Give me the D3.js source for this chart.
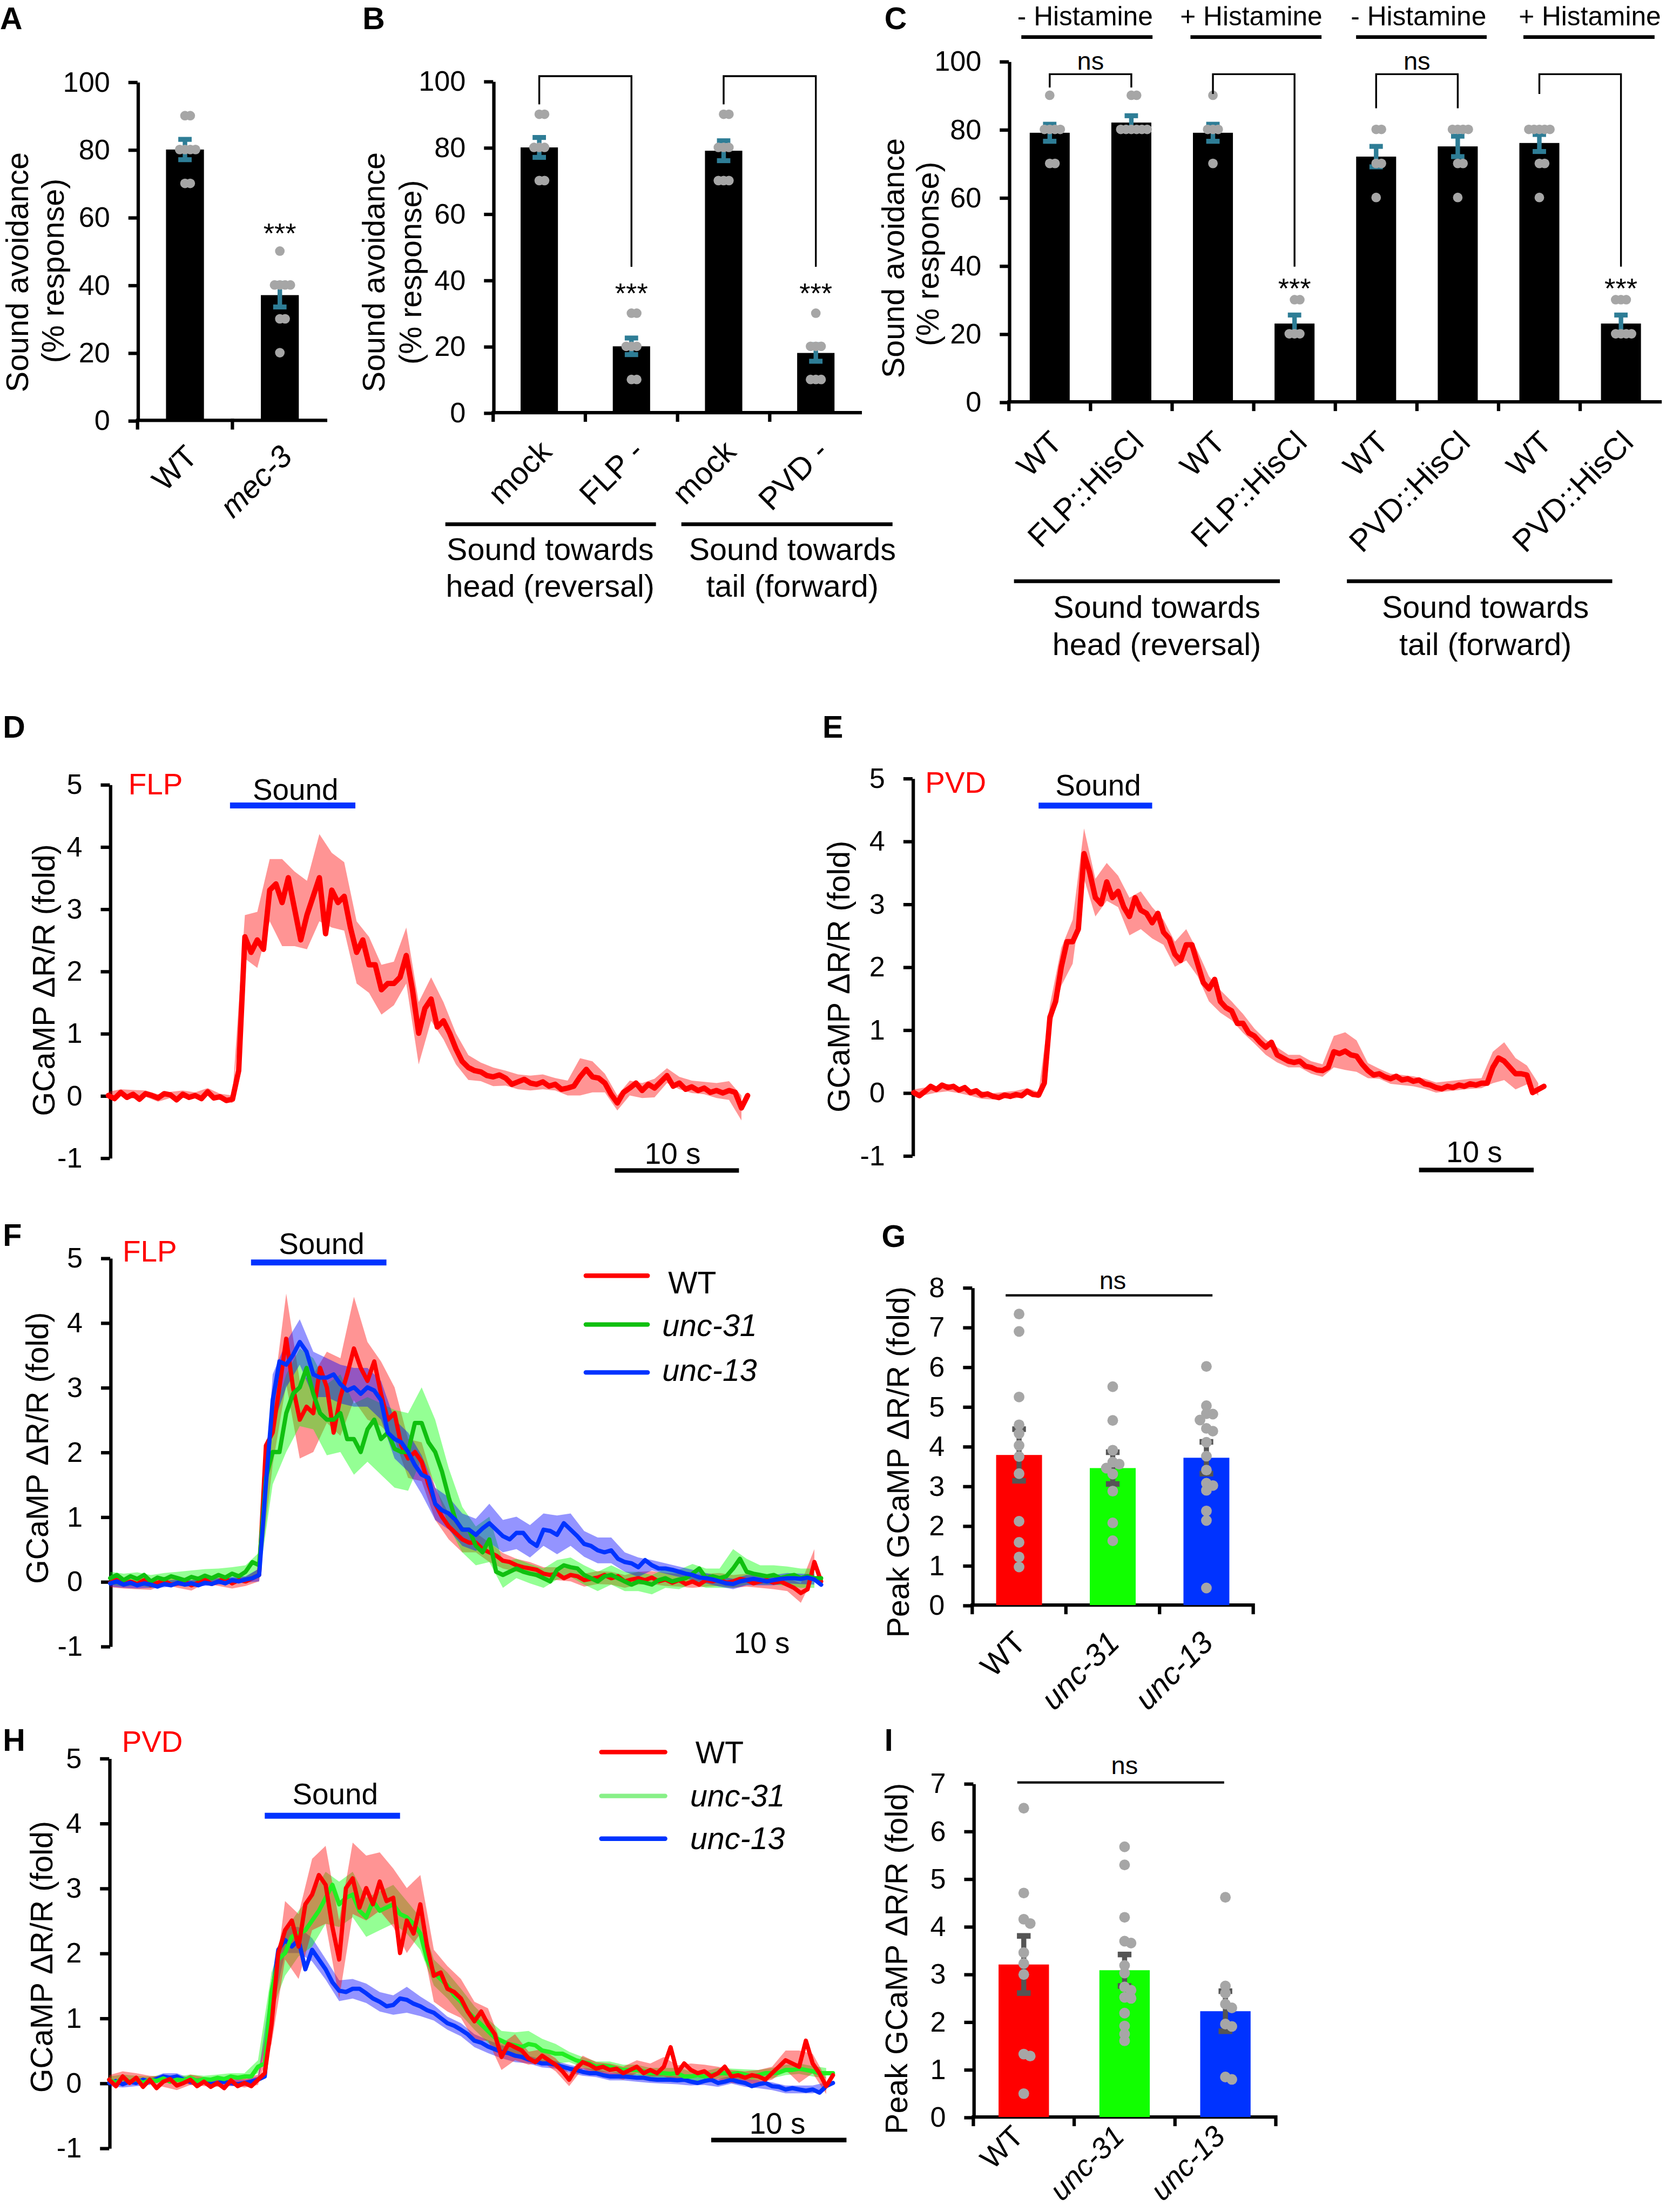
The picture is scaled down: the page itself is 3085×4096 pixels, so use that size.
<!DOCTYPE html>
<html>
<head>
<meta charset="utf-8">
<script src="https://cdn.jsdelivr.net/npm/d3@7"></script>
<style>
  body { margin: 0; background: #fff; }
  svg { display: block; }
</style>
</head>
<body>
<svg id="main-svg"></svg>
<script>
// ================= DATA =================

// A - sound avoidance, WT vs mec-3
const catsA = ["WT", "mec-3"];
const meanA = [80, 37];
const semA = [3, 3.5];
const dotsA = [[90, 90, 80, 80, 80, 80, 70, 70], [50, 40, 40, 40, 40, 30, 30, 20]];

// B - neuron ablation
const catsB = ["mock", "FLP -", "mock", "PVD -"];
const meanB = [80, 20, 79, 18];
const semB = [3, 2.5, 3, 2.5];
const dotsB = [[90, 90, 80, 80, 80, 70, 70], [30, 30, 20, 20, 20, 10, 10],
               [90, 90, 80, 80, 80, 70, 70, 70], [30, 20, 20, 20, 10, 10, 10]];
const groupsB = [["Sound towards", "head (reversal)"], ["Sound towards", "tail (forward)"]];

// C - HisCl silencing
const catsC = ["WT", "FLP::HisCl", "WT", "FLP::HisCl", "WT", "PVD::HisCl", "WT", "PVD::HisCl"];
const meanC = [79, 82, 79, 23, 72, 75, 76, 23];
const semC = [2.5, 2, 2.5, 2.5, 3, 3, 2.5, 2.5];
const dotsC = [[90, 80, 80, 80, 80, 70, 70], [90, 90, 80, 80, 80, 80, 80, 80],
               [90, 80, 80, 80, 70], [30, 30, 20, 20, 20],
               [80, 80, 70, 70, 60], [80, 80, 80, 80, 70, 70, 60],
               [80, 80, 80, 80, 80, 70, 70, 60], [30, 30, 30, 20, 20, 20, 20]];
const histC = ["- Histamine", "+ Histamine", "- Histamine", "+ Histamine"];
const groupsC = [["Sound towards", "head (reversal)"], ["Sound towards", "tail (forward)"]];

const italicCats = ["mec-3", "unc-31", "unc-13"];
const strainNames = ["WT", "unc-31", "unc-13"];

// traces: mean sampled every 0.5 s, sem every 1 s
// D - FLP
const meanD = [0.0,-0.05,0.05,-0.03,0.02,-0.06,0.03,0.0,-0.04,0.03,0.01,-0.07,0.02,-0.03,0.0,-0.05,0.06,-0.04,-0.02,-0.08,-0.06,
  0.4,2.55,2.3,2.5,2.35,3.3,3.4,3.1,3.5,3.0,2.5,2.9,3.2,3.5,2.6,3.3,3.1,3.2,2.7,2.3,
  2.5,2.1,2.1,1.7,1.8,1.8,1.9,2.25,1.7,1.0,1.4,1.55,1.1,1.2,1.0,0.75,0.55,0.45,0.4,0.38,
  0.32,0.3,0.33,0.28,0.18,0.22,0.26,0.2,0.18,0.22,0.15,0.18,0.1,0.12,0.15,0.3,0.42,0.3,0.28,0.2,
  0.02,-0.12,0.05,0.12,0.2,0.08,0.18,0.12,0.22,0.32,0.15,0.2,0.1,0.14,0.08,0.12,0.05,0.08,0.04,0.08,
  0.05,-0.2,0.0];
const semD = [0.06,0.05,0.07,0.05,0.06,0.05,0.06,0.05,0.06,0.05,0.06,
  0.35,0.45,0.5,0.7,0.6,0.55,0.7,0.6,0.55,0.5,
  0.45,0.4,0.35,0.45,0.5,0.35,0.3,0.25,0.2,0.15,
  0.15,0.12,0.12,0.12,0.12,0.1,0.12,0.3,0.25,0.15,
  0.12,0.12,0.12,0.15,0.12,0.1,0.1,0.1,0.12,0.15,
  0.2];

// E - PVD
const meanE = [0.0,-0.05,0.02,0.1,0.05,0.12,0.08,0.1,0.04,0.08,0.0,0.03,-0.04,-0.02,-0.06,-0.08,-0.04,-0.06,-0.03,-0.05,0.02,
  -0.03,-0.04,0.15,1.2,1.45,2.0,2.4,2.4,2.6,3.8,3.5,3.1,3.0,3.35,3.1,3.2,2.95,2.8,3.1,2.9,
  2.85,2.7,2.85,2.55,2.45,2.2,2.1,2.35,2.35,2.05,1.75,1.65,1.8,1.45,1.35,1.3,1.1,1.1,0.95,0.9,
  0.8,0.72,0.8,0.6,0.55,0.5,0.48,0.5,0.42,0.4,0.36,0.35,0.4,0.65,0.62,0.66,0.6,0.58,0.45,0.35,
  0.28,0.3,0.25,0.22,0.26,0.2,0.22,0.18,0.2,0.14,0.12,0.08,0.06,0.1,0.08,0.12,0.1,0.14,0.12,0.15,
  0.15,0.4,0.55,0.5,0.4,0.3,0.3,0.28,0.0,0.05,0.1];
const semE = [0.05,0.06,0.05,0.06,0.05,0.05,0.06,0.05,0.05,0.06,0.05,0.05,
  0.2,0.3,0.35,0.4,0.3,0.3,0.25,0.3,0.3,0.25,
  0.2,0.2,0.25,0.2,0.2,0.18,0.15,0.15,0.12,0.12,
  0.12,0.1,0.1,0.1,0.1,0.25,0.3,0.25,0.12,0.08,
  0.08,0.08,0.08,0.08,0.08,0.08,0.08,0.08,0.08,0.25,
  0.3,0.25,0.15,0.1];

// F - FLP in WT / unc-31 / unc-13
const meanF_wt = [-0.02,0.03,-0.05,0.0,-0.04,0.02,-0.06,-0.02,0.01,-0.05,-0.03,0.0,-0.06,-0.02,0.03,-0.04,0.0,0.05,-0.03,0.02,0.0,
  0.05,0.1,2.1,2.3,3.0,3.75,3.0,2.5,2.7,2.6,3.3,3.0,2.3,2.85,3.2,3.6,3.3,3.1,3.4,2.9,
  2.5,2.6,2.1,1.9,2.0,1.85,1.5,1.2,1.0,0.85,0.75,0.65,0.6,0.6,0.5,0.45,0.4,0.32,0.3,0.25,
  0.22,0.2,0.18,0.12,0.1,0.12,0.05,0.1,0.08,0.02,0.04,0.06,0.1,0.05,0.08,0.0,0.03,0.05,0.02,0.06,
  0.0,0.03,-0.02,0.02,-0.04,0.0,-0.05,0.02,0.0,0.03,-0.02,0.0,0.04,0.02,-0.03,0.0,0.02,-0.02,0.0,-0.05,
  -0.1,-0.18,-0.12,0.3,0.0];
const meanF_31 = [0.05,0.1,0.02,0.08,0.04,0.1,0.0,0.06,0.03,0.08,0.05,0.02,0.07,0.04,0.09,0.05,0.1,0.06,0.12,0.08,0.15,
  0.3,0.25,1.6,2.0,2.0,2.6,2.9,3.0,3.3,2.9,2.6,2.5,2.5,2.6,2.2,2.2,2.0,2.35,2.5,2.2,
  2.3,2.05,2.0,2.0,2.45,2.45,2.15,2.0,1.7,1.3,0.95,0.8,0.8,0.55,0.45,0.65,0.15,0.1,0.15,0.2,
  0.15,0.12,0.1,0.05,0.0,0.18,0.25,0.22,0.2,0.1,0.05,0.0,0.08,0.1,0.05,0.0,-0.05,0.0,-0.02,-0.05,
  0.02,0.05,0.0,0.03,0.05,0.12,0.2,0.05,0.08,0.05,0.08,0.2,0.35,0.15,0.12,0.1,0.08,0.1,0.05,0.08,
  0.1,0.05,0.08,0.05,0.05];
const meanF_13 = [-0.03,0.0,-0.05,-0.02,-0.06,-0.03,-0.05,-0.08,-0.04,-0.06,-0.02,-0.05,-0.03,-0.06,-0.02,-0.04,0.0,-0.03,0.02,0.0,0.03,
  0.05,0.1,1.5,2.8,3.4,3.35,3.5,3.7,3.55,3.2,3.15,3.15,3.2,3.05,2.95,3.0,2.9,3.0,2.95,2.8,
  2.3,2.2,2.15,2.0,1.8,1.65,1.6,1.2,1.1,1.05,0.95,0.8,0.8,0.72,0.82,0.9,0.8,0.7,0.65,0.75,
  0.75,0.62,0.55,0.8,0.78,0.72,0.9,0.8,0.7,0.58,0.55,0.48,0.45,0.48,0.35,0.3,0.28,0.22,0.33,0.25,
  0.2,0.2,0.18,0.15,0.12,0.1,0.06,0.05,0.03,0.0,-0.03,-0.04,0.0,0.02,0.04,0.02,0.0,0.02,0.04,0.05,
  0.05,0.04,0.06,0.03,-0.05];
const semF_wt = [0.07,0.06,0.08,0.07,0.06,0.07,0.08,0.06,0.07,0.08,0.07,
  0.1,0.5,0.7,0.6,0.6,0.55,0.6,0.8,0.6,0.5,
  0.4,0.3,0.3,0.25,0.2,0.2,0.15,0.15,0.12,0.1,
  0.1,0.1,0.1,0.1,0.1,0.1,0.1,0.1,0.1,0.1,
  0.1,0.1,0.1,0.1,0.1,0.1,0.1,0.1,0.1,0.1,
  0.15,0.2];
const semF_31 = [0.1,0.1,0.1,0.1,0.1,0.1,0.1,0.1,0.1,0.1,0.1,
  0.2,0.5,0.6,0.6,0.55,0.55,0.6,0.55,0.5,0.55,
  0.6,0.6,0.55,0.5,0.45,0.35,0.3,0.35,0.2,0.15,
  0.15,0.15,0.15,0.15,0.15,0.15,0.15,0.15,0.15,0.15,
  0.15,0.15,0.15,0.15,0.15,0.3,0.2,0.15,0.15,0.15,
  0.15,0.15];
const semF_13 = [0.05,0.05,0.05,0.05,0.05,0.05,0.05,0.05,0.05,0.05,0.05,
  0.1,0.4,0.35,0.35,0.35,0.3,0.3,0.3,0.3,0.3,
  0.3,0.3,0.3,0.25,0.25,0.25,0.25,0.3,0.25,0.25,
  0.25,0.25,0.3,0.25,0.2,0.2,0.2,0.15,0.15,0.08,
  0.08,0.08,0.08,0.08,0.08,0.08,0.08,0.08,0.08,0.08,
  0.08,0.08];

// G - peak FLP response
const meanG = [3.78, 3.45, 3.71];
const semG = [0.65, 0.4, 0.4];
const dotsG = [[7.33, 6.89, 5.24, 4.54, 4.32, 4.02, 3.74, 3.31, 2.11, 1.58, 1.21, 0.96],
               [5.5, 4.65, 3.9, 3.6, 3.55, 3.45, 3.3, 2.87, 2.07, 1.62],
               [6.01, 5.02, 4.82, 4.81, 4.66, 4.45, 4.38, 4.1, 3.75, 3.4, 3.07, 3.01, 2.89, 2.37, 2.13, 0.43]];

// H - PVD in WT / unc-31 / unc-13
const meanH_wt = [0.05,-0.05,0.1,0.0,0.08,-0.06,0.05,-0.08,0.02,0.06,-0.04,0.0,0.05,-0.05,0.02,-0.06,0.0,-0.08,0.04,-0.05,0.0,
  -0.05,0.05,0.15,0.9,2.0,2.35,2.5,2.1,2.75,2.9,3.2,3.05,2.4,1.9,3.0,3.15,2.7,3.0,2.75,3.1,
  2.8,2.85,2.0,2.5,2.3,2.75,2.1,1.65,1.7,1.45,1.4,1.3,1.1,0.95,1.1,0.9,0.75,0.4,0.6,0.55,
  0.5,0.38,0.32,0.42,0.35,0.28,0.18,0.05,0.22,0.32,0.28,0.22,0.25,0.2,0.22,0.15,0.2,0.25,0.15,0.2,
  0.15,0.25,0.55,0.15,0.3,0.2,0.15,0.18,0.1,0.15,0.25,0.1,0.12,0.08,0.12,0.1,0.05,0.15,0.25,0.35,
  0.3,0.25,0.65,0.3,0.15,-0.05,0.12];
const meanH_31 = [0.05,0.0,0.08,0.02,0.06,0.0,0.05,0.03,0.07,0.02,0.05,0.04,0.08,0.03,0.06,0.05,0.08,0.06,0.1,0.08,0.1,
  0.1,0.25,0.3,1.4,1.9,2.0,2.25,2.3,2.35,2.5,2.65,2.85,3.05,2.75,2.85,2.9,2.65,2.55,2.8,2.65,
  2.7,2.75,2.6,2.55,2.45,2.3,1.9,1.7,1.6,1.5,1.35,1.25,1.1,1.0,0.9,0.8,0.7,0.65,0.6,0.58,
  0.55,0.6,0.58,0.5,0.48,0.45,0.45,0.4,0.35,0.32,0.3,0.25,0.26,0.25,0.22,0.2,0.2,0.2,0.18,0.15,
  0.15,0.15,0.14,0.15,0.1,0.1,0.12,0.1,0.12,0.15,0.15,0.14,0.15,0.13,0.1,0.12,0.15,0.15,0.16,0.2,
  0.2,0.22,0.2,0.18,0.15,0.15,0.15];
const meanH_13 = [0.0,0.03,-0.02,0.02,0.0,0.05,0.02,0.06,0.1,0.08,0.1,0.05,0.02,0.0,0.03,-0.02,0.0,0.02,0.0,-0.02,0.0,
  0.02,0.05,0.1,1.3,2.05,2.2,2.1,2.2,1.75,2.05,1.9,1.75,1.55,1.42,1.4,1.45,1.45,1.38,1.3,1.25,
  1.18,1.2,1.3,1.28,1.22,1.18,1.12,1.08,1.0,0.92,0.88,0.82,0.75,0.65,0.62,0.56,0.52,0.48,0.46,0.42,
  0.4,0.36,0.33,0.3,0.3,0.28,0.25,0.22,0.2,0.17,0.15,0.15,0.12,0.1,0.1,0.1,0.09,0.08,0.08,0.06,
  0.05,0.05,0.05,0.04,0.05,0.02,0.0,0.03,0.05,0.0,0.02,0.05,0.02,0.0,-0.05,-0.02,0.0,-0.05,-0.06,-0.1,
  -0.08,-0.1,-0.12,-0.1,-0.15,-0.05,0.0];
const semH_wt = [0.07,0.08,0.07,0.06,0.08,0.07,0.08,0.07,0.06,0.08,0.07,
  0.08,0.3,0.45,0.5,0.55,0.6,0.6,0.55,0.5,0.45,
  0.45,0.5,0.45,0.4,0.35,0.3,0.3,0.25,0.2,0.2,
  0.1,0.1,0.1,0.1,0.1,0.1,0.1,0.1,0.1,0.1,
  0.15,0.12,0.1,0.1,0.1,0.1,0.1,0.1,0.1,0.15,
  0.25,0.15,0.12];
const semH_31 = [0.05,0.05,0.05,0.05,0.05,0.05,0.05,0.05,0.05,0.05,0.05,
  0.1,0.3,0.35,0.35,0.4,0.4,0.35,0.35,0.3,0.3,
  0.3,0.25,0.25,0.2,0.2,0.2,0.18,0.18,0.15,0.2,
  0.2,0.18,0.15,0.08,0.08,0.08,0.08,0.08,0.08,0.08,
  0.08,0.08,0.08,0.08,0.08,0.08,0.08,0.08,0.08,0.08,
  0.08,0.08,0.08];
const semH_13 = [0.05,0.05,0.05,0.05,0.05,0.05,0.05,0.05,0.05,0.05,0.05,
  0.05,0.25,0.2,0.2,0.18,0.16,0.16,0.15,0.15,0.15,
  0.15,0.2,0.15,0.12,0.1,0.1,0.1,0.1,0.1,0.1,
  0.06,0.06,0.06,0.06,0.06,0.06,0.06,0.06,0.06,0.06,
  0.06,0.06,0.06,0.06,0.06,0.06,0.06,0.06,0.06,0.06,
  0.06,0.06,0.06];

// I - peak PVD response
const meanI = [3.2, 3.08, 2.22];
const semI = [0.6, 0.33, 0.42];
const dotsI = [[6.48, 4.7, 4.15, 4.06, 3.45, 3.22, 2.99, 1.32, 1.28, 0.49],
               [5.67, 5.29, 4.19, 3.69, 3.65, 3.18, 3.02, 2.73, 2.66, 2.51, 2.49, 2.18, 1.91, 1.74, 1.6],
               [4.61, 2.75, 2.6, 2.37, 2.29, 1.95, 1.9, 0.84, 0.79]];

const yTicksPct = [0, 20, 40, 60, 80, 100];
const yTicksTrace = [-1, 0, 1, 2, 3, 4, 5];

// ================= DRAWING =================
// all layout below is in 1181 x 1568 units, scaled up to the window
const CANVAS_WIDTH = 3085;
const CANVAS_HEIGHT = 4096;
const S = CANVAS_WIDTH / 1181;
const FONT = "'Liberation Sans', Arial, Helvetica, sans-serif";
const AXIS_W = 2.4;
const TEAL = "#2e7d96";
const DOT = "#a6a6a6";
const RED = "#ff0000", GREEN = "#11ff00", BLUE = "#0033ff";

const svg = d3.select("#main-svg")
  .attr("width", CANVAS_WIDTH)
  .attr("height", CANVAS_HEIGHT);
svg.append("rect").attr("width", CANVAS_WIDTH).attr("height", CANVAS_HEIGHT).attr("fill", "white");
const root = svg.append("g").attr("transform", `scale(${S})`);

function txt(g, x, y, s, size, opts = {}) {
  const t = g.append("text")
    .attr("x", x).attr("y", y)
    .attr("font-family", FONT)
    .attr("font-size", size)
    .attr("text-anchor", opts.anchor || "start")
    .attr("fill", opts.fill || "#000")
    .text(s);
  if (opts.bold) t.attr("font-weight", "bold");
  if (opts.italic) t.attr("font-style", "italic");
  return t;
}

function vtxt(g, x, y, s, size) {
  g.append("text")
    .attr("transform", `translate(${x},${y}) rotate(-90)`)
    .attr("font-family", FONT)
    .attr("font-size", size)
    .attr("text-anchor", "middle")
    .text(s);
}

function hline(g, x1, x2, y, w, color = "#000") {
  g.append("line").attr("x1", x1).attr("x2", x2).attr("y1", y).attr("y2", y)
    .attr("stroke", color).attr("stroke-width", w);
}

function styleAxis(ax) {
  ax.attr("font-size", null).attr("font-family", null);
  ax.select(".domain").attr("stroke", "#000").attr("stroke-width", AXIS_W);
  ax.selectAll(".tick line").attr("stroke", "#000").attr("stroke-width", AXIS_W);
  ax.selectAll(".tick text").attr("font-size", 20).attr("font-family", FONT).attr("fill", "#000");
}

// spread dots sideways so they do not sit on each other
function swarm(values, y, r, step) {
  const placed = [];
  return values.map(v => {
    const py = y(v);
    let off = 0;
    for (let i = 0; i < 30; i++) {
      off = (i % 2 ? 1 : -1) * Math.ceil(i / 2) * step;
      if (placed.every(p => Math.hypot(p.x - off, p.y - py) >= step - 0.01)) break;
    }
    placed.push({ x: off, y: py });
    return { dx: off, y: py };
  });
}

function barPanel(o) {
  const g = root.append("g");
  const y = d3.scaleLinear().domain([0, o.yMax]).range([o.yBot, o.yTop]);
  const x = d3.scaleBand().domain(d3.range(o.cats.length)).range([o.x0, o.x1]);
  const cx = i => x(i) + x.bandwidth() / 2;

  const ax = g.append("g").attr("transform", `translate(${o.x0},0)`)
    .call(d3.axisLeft(y).tickValues(o.ticks).tickSize(6.5).tickSizeOuter(0).tickPadding(13).tickFormat(d => String(d)));
  styleAxis(ax);

  hline(g, o.x0, o.x1, o.yBot, AXIS_W);
  const nTicks = o.cats.length + (o.endTick ? 1 : 0);
  g.selectAll(".xtick").data(d3.range(nTicks)).join("line")
    .attr("x1", i => o.x0 + i * x.step()).attr("x2", i => o.x0 + i * x.step())
    .attr("y1", o.yBot - AXIS_W / 2).attr("y2", o.yBot + 6.5)
    .attr("stroke", "#000").attr("stroke-width", AXIS_W);

  const bw = x.bandwidth() * o.barFrac;
  g.selectAll(".bar").data(o.means).join("rect")
    .attr("x", (d, i) => cx(i) - bw / 2)
    .attr("y", d => y(d))
    .attr("width", bw)
    .attr("height", d => o.yBot - y(d))
    .attr("fill", (d, i) => o.colors[i % o.colors.length]);

  // error bars
  o.means.forEach((m, i) => {
    const e = o.sems[i], c = cx(i);
    g.append("line").attr("x1", c).attr("x2", c).attr("y1", y(m - e)).attr("y2", y(m + e))
      .attr("stroke", o.errColor).attr("stroke-width", o.errW);
    [m - e, m + e].forEach(v => hline(g, c - o.capW / 2, c + o.capW / 2, y(v), o.capT, o.errColor));
  });

  // individual points
  o.dots.forEach((vals, i) => {
    g.selectAll(null).data(swarm(vals, y, o.dotR, o.dotR * o.spread)).join("circle")
      .attr("cx", d => cx(i) + d.dx).attr("cy", d => d.y).attr("r", o.dotR)
      .attr("fill", DOT);
  });

  // rotated category labels
  o.cats.forEach((c, i) => {
    g.append("text")
      .attr("transform", `translate(${cx(i) + o.ldx},${o.yBot + o.ldy}) rotate(-45)`)
      .attr("text-anchor", "end")
      .attr("font-family", FONT)
      .attr("font-size", o.lsize || 22)
      .attr("font-style", italicCats.includes(c) ? "italic" : "normal")
      .text(c);
  });

  return { g, x, y, cx };
}

function bracket(p, a, b, top, la, lb) {
  p.g.append("path")
    .attr("d", `M${p.cx(a)},${p.y(la)}V${p.y(top)}H${p.cx(b)}V${p.y(lb)}`)
    .attr("fill", "none").attr("stroke", "#000").attr("stroke-width", 1.3);
}

function tracePanel(o) {
  const g = root.append("g");
  const y = d3.scaleLinear().domain([-1, 5]).range([o.yBot, o.yTop]);
  const x = d3.scaleLinear().domain([0, 10]).range([o.xStart, o.xStart + o.px10]);

  const ax = g.append("g").attr("transform", `translate(${o.axisX},0)`)
    .call(d3.axisLeft(y).tickValues(yTicksTrace).tickSize(6.5).tickSizeOuter(0).tickPadding(13).tickFormat(d => String(d)));
  styleAxis(ax);

  const band = d3.area()
    .x((d, k) => x(k))
    .y0((d, k) => y(d.m - d.s))
    .y1((d, k) => y(d.m + d.s));
  const line = d3.line().x((d, i) => x(i * 0.5)).y(d => y(d));

  o.series.forEach(s => {
    const pts = s.sem.map((sv, k) => ({ m: s.mean[2 * k], s: sv })).filter(d => d.m !== undefined);
    g.append("path").attr("d", band(pts)).attr("fill", s.band).attr("fill-opacity", 0.42);
  });
  o.series.forEach(s => {
    g.append("path").attr("d", line(s.mean)).attr("fill", "none")
      .attr("stroke", s.color).attr("stroke-width", o.lineW)
      .attr("stroke-linejoin", "round").attr("stroke-linecap", "round");
  });

  // stimulus bar
  hline(g, x(o.sound[0]), x(o.sound[1]), o.soundY, 4.2, BLUE);
  txt(g, (x(o.sound[0]) + x(o.sound[1])) / 2 + 2, o.soundTextY, "Sound", 21, { anchor: "middle" });

  // time scale bar
  if (o.scaleBar) hline(g, x(o.scaleBar[0]), x(o.scaleBar[1]), o.scaleBarY, 3.2);
  txt(g, o.scaleText[0], o.scaleText[1], "10 s", 21, { anchor: "middle" });

  txt(g, o.neuron[1], o.neuron[2], o.neuron[0], 21, { fill: RED });
  vtxt(g, o.ylab[0], o.ylab[1], "GCaMP \u0394R/R (fold)", 22);
  return { g, x, y };
}

function legend(g, items, x1, x2, tx, ys, tys) {
  items.forEach((it, i) => {
    g.append("line").attr("x1", x1).attr("x2", x2).attr("y1", ys[i]).attr("y2", ys[i])
      .attr("stroke", it.color).attr("stroke-width", 3.2).attr("stroke-linecap", "round");
    txt(g, tx[i], tys[i], it.name, 22, { italic: italicCats.includes(it.name) });
  });
}

// ---------- panel letters ----------
[["A", 0, 20.5], ["B", 257, 20.5], ["C", 627, 20.5], ["D", 2, 523], ["E", 583, 523],
 ["F", 2, 883], ["G", 625, 884], ["H", 2, 1241], ["I", 627, 1241]]
  .forEach(([l, x, y]) => txt(root, x, y, l, 22, { bold: true }));

// ---------- A ----------
const pA = barPanel({
  cats: catsA, means: meanA, sems: semA, dots: dotsA,
  x0: 97.5, x1: 232, yTop: 58, yBot: 298, yMax: 100, ticks: yTicksPct,
  barFrac: 0.4, colors: ["#000"], errColor: TEAL, errW: 3.2, capW: 9.5, capT: 3.5,
  dotR: 3.4, spread: 1.1, endTick: false, ldx: 10, ldy: 27
});
txt(pA.g, pA.cx(1), pA.y(52.4), "***", 20, { anchor: "middle" });
vtxt(pA.g, 20, 193, "Sound avoidance", 22);
vtxt(pA.g, 45, 192, "(% response)", 22);

// ---------- B ----------
const pB = barPanel({
  cats: catsB, means: meanB, sems: semB, dots: dotsB,
  x0: 349.6, x1: 611, yTop: 57.5, yBot: 292.5, yMax: 100, ticks: yTicksPct,
  barFrac: 0.405, colors: ["#000"], errColor: TEAL, errW: 3.2, capW: 9.5, capT: 3.5,
  dotR: 3.4, spread: 1.1, endTick: false, ldx: 10, ldy: 29
});
bracket(pB, 0, 1, 101.5, 93, 44);
bracket(pB, 2, 3, 101.5, 93, 44);
txt(pB.g, pB.cx(1), pB.y(33), "***", 20, { anchor: "middle" });
txt(pB.g, pB.cx(3), pB.y(33), "***", 20, { anchor: "middle" });
vtxt(pB.g, 272.5, 193, "Sound avoidance", 22);
vtxt(pB.g, 298.5, 193, "(% response)", 22);
hline(pB.g, 315.7, 465, 371.6, 2.7);
hline(pB.g, 483, 632.7, 371.6, 2.7);
[[390, groupsB[0]], [561.7, groupsB[1]]].forEach(([cx, lines]) => {
  txt(pB.g, cx, 397, lines[0], 22, { anchor: "middle" });
  txt(pB.g, cx, 423, lines[1], 22, { anchor: "middle" });
});

// ---------- C ----------
const pC = barPanel({
  cats: catsC, means: meanC, sems: semC, dots: dotsC,
  x0: 715.2, x1: 1178, yTop: 43.4, yBot: 284.9, yMax: 100, ticks: yTicksPct,
  barFrac: 0.49, colors: ["#000"], errColor: TEAL, errW: 3.2, capW: 9.5, capT: 3.5,
  dotR: 3.4, spread: 1.1, endTick: false, ldx: 10, ldy: 30
});
bracket(pC, 0, 1, 96.2, 92.3, 92.3);
bracket(pC, 2, 3, 96.2, 90.4, 39.7);
bracket(pC, 4, 5, 96.2, 86.2, 86.2);
bracket(pC, 6, 7, 96.2, 90.4, 39.7);
txt(pC.g, (pC.cx(0) + pC.cx(1)) / 2, pC.y(97.6), "ns", 18, { anchor: "middle" });
txt(pC.g, (pC.cx(4) + pC.cx(5)) / 2, pC.y(97.6), "ns", 18, { anchor: "middle" });
txt(pC.g, pC.cx(3), pC.y(30.5), "***", 20, { anchor: "middle" });
txt(pC.g, pC.cx(7), pC.y(30.5), "***", 20, { anchor: "middle" });
vtxt(pC.g, 641, 183, "Sound avoidance", 22);
vtxt(pC.g, 665.5, 180, "(% response)", 22);
[[724, 817, 769.2], [843.9, 936.8, 887], [961.3, 1053.9, 1005.6], [1079.9, 1172.9, 1127]]
  .forEach(([a, b, c], i) => {
    hline(pC.g, a, b, 26.3, 2.6);
    txt(pC.g, c, 18, histC[i], 19, { anchor: "middle" });
  });
hline(pC.g, 718.8, 907.3, 412, 2.7);
hline(pC.g, 954.8, 1142.9, 412, 2.7);
[[820, groupsC[0]], [1053, groupsC[1]]].forEach(([cx, lines]) => {
  txt(pC.g, cx, 438, lines[0], 22, { anchor: "middle" });
  txt(pC.g, cx, 464.5, lines[1], 22, { anchor: "middle" });
});

// ---------- D ----------
tracePanel({
  axisX: 77.9, yTop: 556, yBot: 820.7, xStart: 76.8, px10: 88,
  series: [{ mean: meanD, sem: semD, color: RED, band: RED }],
  lineW: 3.8, sound: [9.8, 19.9], soundY: 571, soundTextY: 567,
  scaleBar: [40.8, 50.8], scaleBarY: 829.7, scaleText: [476.8, 825],
  neuron: ["FLP", 91, 563], ylab: [38.5, 694.8]
});

// ---------- E ----------
tracePanel({
  axisX: 646.9, yTop: 551.6, yBot: 819.1, xStart: 647.7, px10: 80.5,
  series: [{ mean: meanE, sem: semE, color: RED, band: RED }],
  lineW: 3.8, sound: [11.0, 21.0], soundY: 571.1, soundTextY: 563.9,
  scaleBar: [44.5, 54.6], scaleBarY: 829.4, scaleText: [1045, 823.7],
  neuron: ["PVD", 655.9, 561.8], ylab: [602, 692.3]
});

// ---------- F ----------
const pF = tracePanel({
  axisX: 78.1, yTop: 891.7, yBot: 1166.9, xStart: 78.1, px10: 96,
  series: [
    { mean: meanF_wt, sem: semF_wt, color: RED, band: RED },
    { mean: meanF_31, sem: semF_31, color: "#10c010", band: "#00ff00" },
    { mean: meanF_13, sem: semF_13, color: BLUE, band: "#0000ff" }
  ],
  lineW: 3.0, sound: [10.4, 20.4], soundY: 894.9, soundTextY: 888.9,
  scaleBar: null, scaleText: [540, 1171.8],
  neuron: ["FLP", 86.9, 894.3], ylab: [34, 1026.5]
});
legend(pF.g, [{ name: strainNames[0], color: RED }, { name: strainNames[1], color: "#10c010" }, { name: strainNames[2], color: BLUE }],
  415.3, 459.1, [473.6, 469.4, 469.4], [904.3, 938.9, 972.9], [916.7, 947, 979]);

// ---------- G ----------
const pG = barPanel({
  cats: strainNames, means: meanG, sems: semG, dots: dotsG,
  x0: 689.2, x1: 888.4, yTop: 912.6, yBot: 1137.8, yMax: 8, ticks: d3.range(0, 9),
  barFrac: 0.49, colors: [RED, GREEN, BLUE], errColor: "#555555", errW: 3.6, capW: 9.7, capT: 4,
  dotR: 3.8, spread: 1.2, endTick: true, ldx: 6, ldy: 28
});
hline(pG.g, pG.cx(0) - 9.5, pG.cx(2) + 4.3, pG.y(7.8), 1.6);
txt(pG.g, (pG.cx(0) + pG.cx(2)) / 2, pG.y(7.96), "ns", 18, { anchor: "middle" });
vtxt(pG.g, 644.3, 1036.4, "Peak GCaMP \u0394R/R (fold)", 22);

// ---------- H ----------
const pH = tracePanel({
  axisX: 77.4, yTop: 1246.3, yBot: 1522.6, xStart: 77.4, px10: 95.9,
  series: [
    { mean: meanH_13, sem: semH_13, color: BLUE, band: "#0000ff" },
    { mean: meanH_31, sem: semH_31, color: "#22ee22", band: "#00ff00" },
    { mean: meanH_wt, sem: semH_wt, color: RED, band: RED }
  ],
  lineW: 3.0, sound: [11.5, 21.5], soundY: 1287.1, soundTextY: 1278.9,
  scaleBar: [44.5, 54.5], scaleBarY: 1517, scaleText: [551.1, 1512.7],
  neuron: ["PVD", 86.4, 1242], ylab: [37, 1387.2]
});
legend(pH.g, [{ name: strainNames[0], color: RED }, { name: strainNames[1], color: "#88f088" }, { name: strainNames[2], color: BLUE }],
  426.3, 471.5, [493, 489.2, 489.2], [1242, 1273.1, 1303.4], [1249.8, 1280.6, 1310.9]);

// ---------- I ----------
const pI = barPanel({
  cats: strainNames, means: meanI, sems: semI, dots: dotsI,
  x0: 690, x1: 904.4, yTop: 1264.2, yBot: 1500.7, yMax: 7, ticks: d3.range(0, 8),
  barFrac: 0.5, colors: [RED, GREEN, BLUE], errColor: "#555555", errW: 3.6, capW: 9.7, capT: 4,
  dotR: 3.8, spread: 1.2, endTick: true, ldx: 1, ldy: 15, lsize: 21
});
hline(pI.g, pI.cx(0) - 4.6, pI.cx(2) - 0.9, pI.y(7.02), 1.6);
txt(pI.g, (pI.cx(0) + pI.cx(2)) / 2, pI.y(7.2), "ns", 18, { anchor: "middle" });
vtxt(pI.g, 643.3, 1388.4, "Peak GCaMP \u0394R/R (fold)", 22);
</script>
</body>
</html>
